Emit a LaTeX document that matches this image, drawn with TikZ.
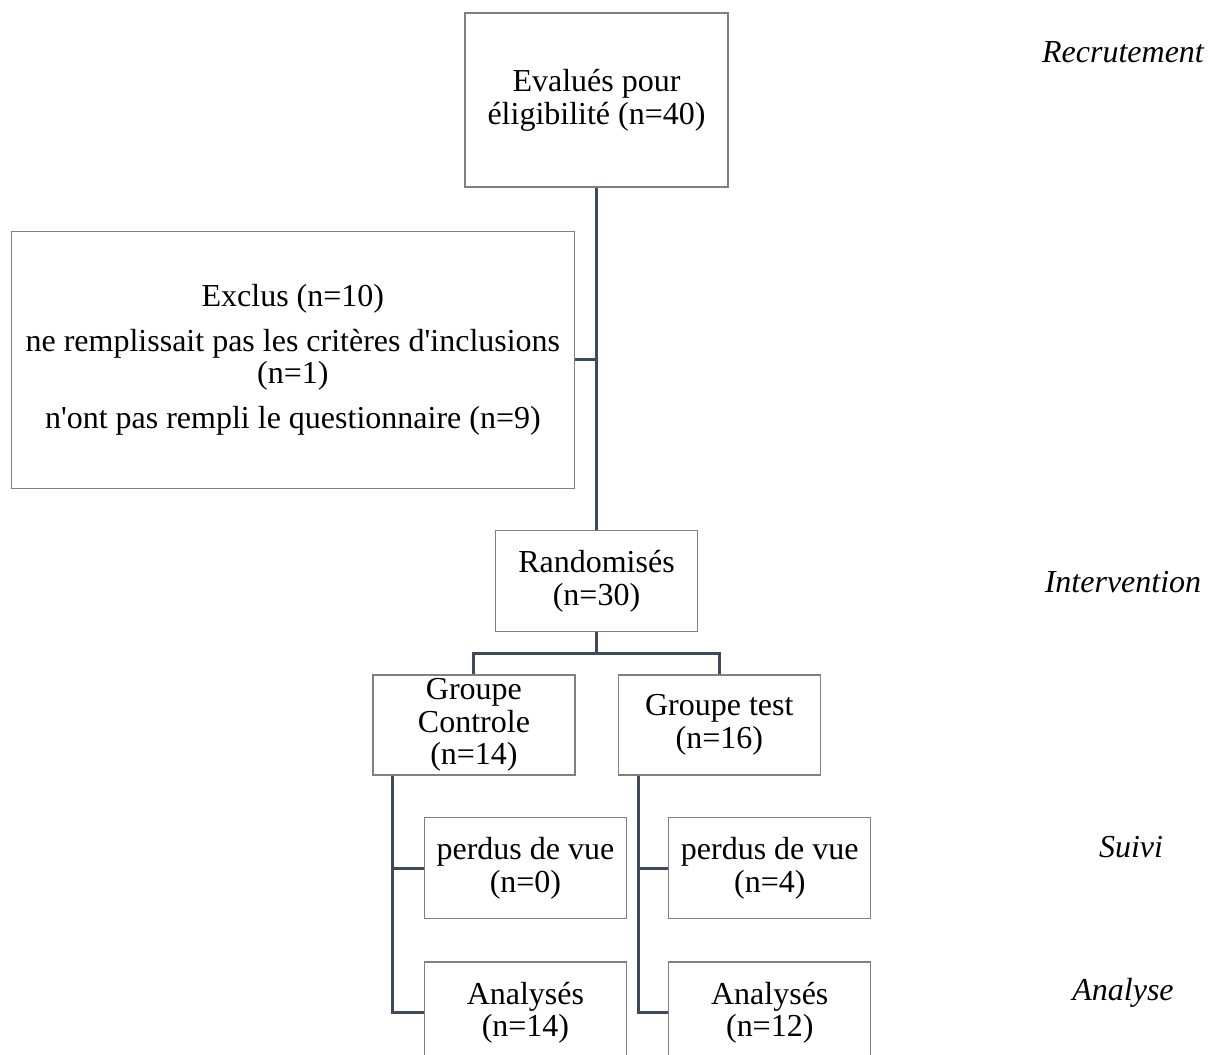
\documentclass[tikz,border=0pt]{standalone}
\usepackage{fontspec}
\setmainfont{Liberation Serif}[Ligatures=TeXOff]
\usetikzlibrary{positioning,calc}
\definecolor{boxgray}{RGB}{128,128,128}
\definecolor{linkslate}{RGB}{62,74,92}
\tikzset{main base/.style={draw=boxgray,line width=1pt,text centered,align=center,inner sep=2pt,
    font=\fontsize{24pt}{24.5pt}\selectfont}, }
\tikzset{main node/.style={rectangle,main base}, }
\tikzset{big node/.style={minimum width=197.25pt,minimum height=130.5pt}, }
\tikzset{excl node/.style={minimum width=422.25pt,minimum height=192.75pt}, }
\tikzset{small node/.style={minimum width=151.5pt,minimum height=76pt}, }
\tikzset{linea/.style={draw=linkslate,line width=2.25pt}}
\tikzset{phase/.style={anchor=base,font=\fontsize{24pt}{24.5pt}\selectfont\itshape}, }

\begin{document}
\begin{tikzpicture}[x=0.75pt,y=-0.75pt]
  \useasboundingbox (0,0) rectangle (1214,1055);
    \node[main node,big node] (eval) at (596.5,100) {Evalués pour\\éligibilité (n=40)};
    \node[main node,excl node] (excl) [below=32.25pt of eval.south,anchor=north east,xshift=-16.1pt]
      {Exclus (n=10)\\[9pt]ne remplissait pas les critères d'inclusions\\(n=1)\\[9pt]n'ont pas rempli le questionnaire (n=9)};
    \node[main node,small node] (rand) [below=256.5pt of eval] {Randomisés\\(n=30)};
    \node[main node,small node,minimum height=75pt,inner ysep=0pt] (ctrl) [below=31.5pt of rand,xshift=-91.9pt] {Groupe\\Controle\\(n=14)};
    \node[main node,small node,minimum height=75pt] (test) [right=31.5pt of ctrl] {Groupe test\\(n=16)};
    \node[main node,small node] (lost0) [below=30.75pt of ctrl,xshift=38.6pt] {perdus de vue\\(n=0)};
    \node[main node,small node] (lost4) [right=30.75pt of lost0] {perdus de vue\\(n=4)};
    \node[main node,small node] (ana14) [below=31.5pt of lost0] {Analysés\\(n=14)};
    \node[main node,small node] (ana12) [below=31.5pt of lost4] {Analysés\\(n=12)};
    % phases
    \node[phase] (recr) at (1123,63) {Recrutement};
    \node[phase] (interv) at (1123,592) {Intervention};
    \node[phase] (suivi) at (1131,857) {Suivi};
    \node[phase] (analyse) at (1123,1000) {Analyse};
    % liens
    \coordinate (bar) at ($(rand.south)!0.5!(rand.south |- ctrl.north)$);
    \path[linea] (eval.south) -- (rand.north);
    \path[linea] (excl.east) -- (excl.east -| eval.south);
    \path[linea] (rand.south) -- (bar);
    \path[linea] (ctrl.north) |- (bar) -| (test.north);
    \foreach \g/\l/\a in {ctrl/lost0/ana14,test/lost4/ana12}{
      \coordinate (\g leg) at ([xshift=15.5pt]\g.south west);
      \path[linea] (\g leg) |- (\a.west);
      \path[linea] (\g leg |- \l.west) -- (\l.west);
    }
\end{tikzpicture}
\end{document}
